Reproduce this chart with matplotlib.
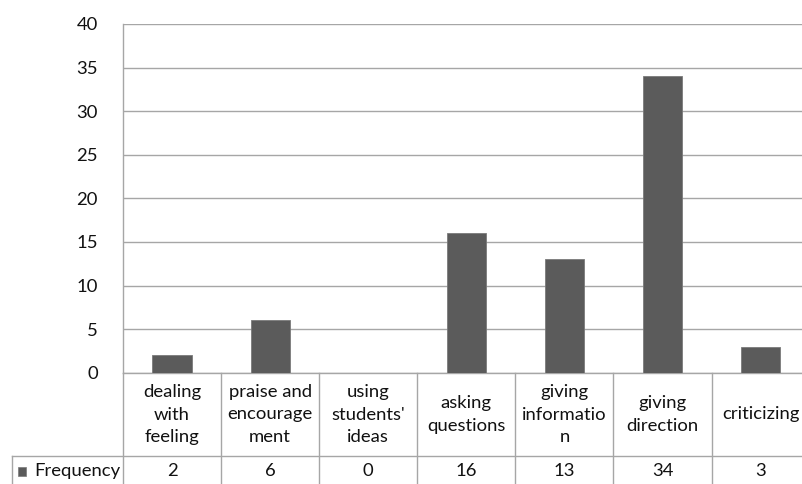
import matplotlib
matplotlib.use("Agg")
import matplotlib.pyplot as plt
from matplotlib.lines import Line2D
from matplotlib.patches import Rectangle
import matplotlib.transforms as mtransforms

categories = ["dealing\nwith\nfeeling", "praise and\nencourage\nment", "using\nstudents'\nideas",
              "asking\nquestions", "giving\ninformatio\nn", "giving\ndirection", "criticizing"]
values = [2, 6, 0, 16, 13, 34, 3]
series_name = "Frequency"
yticks = [0, 5, 10, 15, 20, 25, 30, 35, 40]

W, H = 803, 484
plt.rcParams['font.family'] = ['Lato', 'DejaVu Sans']
TXT = '#111111'
GRID = '#a6a6a6'
BAR = '#5b5b5b'
FS = 13.3

fig = plt.figure(figsize=(W / 100, H / 100), dpi=100)
fx = lambda x: x / W
fy = lambda y: 1 - y / H

left, right, top, bottom = 123, 809.7, 24, 372.7
ax = fig.add_axes([fx(left), fy(bottom), fx(right) - fx(left), fy(top) - fy(bottom)])
x = list(range(len(values)))
ax.bar(x, values, width=0.4, color=BAR, edgecolor='#7a7a7a', linewidth=0.6, zorder=3)
ax.set_xlim(-0.5, len(values) - 0.5)
ax.set_ylim(0, 40)
ax.set_yticks(yticks)
ax.set_yticklabels([str(t) for t in yticks], fontsize=FS, color=TXT)
ax.tick_params(axis='y', length=0, pad=18)
ax.set_xticks([])
ax.grid(axis='y', color=GRID, linewidth=1.0, zorder=0)
for s in ['top', 'right']:
    ax.spines[s].set_visible(False)
for s in ['left', 'bottom']:
    ax.spines[s].set_color(GRID)
    ax.spines[s].set_linewidth(1.0)

tr = mtransforms.blended_transform_factory(ax.transData, fig.transFigure)

# category boundaries in table
for i in range(len(values) + 1):
    b = i - 0.5
    fig.add_artist(Line2D([b, b], [fy(bottom), fy(H + 2)], transform=tr, color=GRID, lw=1.0))
# horizontal line between rows
fig.add_artist(Line2D([fx(12), fx(W + 5)], [fy(456), fy(456)], transform=fig.transFigure, color=GRID, lw=1.0))
fig.add_artist(Line2D([fx(12), fx(12)], [fy(456), fy(H + 2)], transform=fig.transFigure, color=GRID, lw=1.0))

# category labels
for i, c in enumerate(categories):
    fig.text(i, fy(414.5), c, transform=tr, ha='center', va='center', fontsize=FS,
             color=TXT, linespacing=1.5, multialignment='center')
# values
for i, v in enumerate(values):
    fig.text(i, fy(471), str(v), transform=tr, ha='center', va='center', fontsize=FS, color=TXT)

# legend key
fig.add_artist(Rectangle((fx(18), fy(476)), fx(8), fy(467) - fy(476), transform=fig.transFigure,
                         facecolor=BAR, edgecolor='#7a7a7a', lw=0.5))
fig.text(fx(34), fy(471), series_name, ha='left', va='center', fontsize=FS, color=TXT)

fig.savefig("out.png", dpi=100)
